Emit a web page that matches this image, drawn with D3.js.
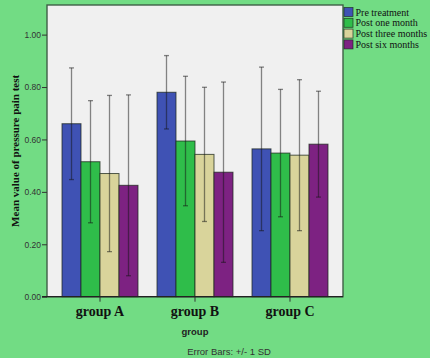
<!DOCTYPE html>
<html>
<head>
<meta charset="utf-8">
<script src="https://cdnjs.cloudflare.com/ajax/libs/d3/7.8.5/d3.min.js"></script>
<style>
  body { margin: 0; background: #fff; }
</style>
</head>
<body>
<div id="chart"></div>
<script>
const WIDTH = 437;
const HEIGHT = 358;

// === DATA ===
const groups = ["group A", "group B", "group C"];
const series = ["Pre treatment", "Post one month", "Post three months", "Post six months"];
const colors = ["#3f52b4", "#2fbd4a", "#d9d49b", "#7d2282"];
// means per series, in group order A, B, C
const means = [
    [0.66, 0.78, 0.564],
    [0.515, 0.594, 0.548],
    [0.47, 0.543, 0.54],
    [0.425, 0.475, 0.582]
];
// standard deviations per series
const sds = [
    [0.213, 0.14, 0.312],
    [0.233, 0.247, 0.243],
    [0.298, 0.256, 0.288],
    [0.345, 0.344, 0.202]
];
const yTicks = [0, 0.2, 0.4, 0.6, 0.8, 1.0];

const PLOT = { left: 47, right: 343, top: 5, bottom: 296.7 };

const svg = d3.select("#chart")
    .append("svg")
    .attr("width", WIDTH)
    .attr("height", HEIGHT);

// green page background
svg.append("rect")
    .attr("x", 0).attr("y", 0)
    .attr("width", 430).attr("height", HEIGHT)
    .attr("fill", "#72dc84");

// plot background
svg.append("rect")
    .attr("x", PLOT.left).attr("y", PLOT.top)
    .attr("width", PLOT.right - PLOT.left)
    .attr("height", PLOT.bottom - PLOT.top)
    .attr("fill", "#f0f0f0")
    .attr("stroke", "#3f5e46")
    .attr("stroke-width", 1.4);

// === SCALES ===
const x = d3.scaleBand()
    .domain(groups)
    .range([PLOT.left, PLOT.right])
    .paddingInner(0.2)
    .paddingOuter(0.158);

const xs = d3.scaleBand()
    .domain(series)
    .range([0, x.bandwidth()]);

const y = d3.scaleLinear()
    .domain([0, 1.113])
    .range([PLOT.bottom, PLOT.top]);

// flatten
const rows = [];
series.forEach((s, si) => {
    groups.forEach((g, gi) => {
        rows.push({ series: s, si, group: g, mean: means[si][gi], sd: sds[si][gi] });
    });
});

// === BARS ===
svg.append("g")
    .selectAll("rect")
    .data(rows)
    .enter()
    .append("rect")
    .attr("x", d => x(d.group) + xs(d.series))
    .attr("y", d => y(d.mean))
    .attr("width", xs.bandwidth())
    .attr("height", d => y(0) - y(d.mean))
    .attr("fill", d => colors[d.si])
    .attr("stroke", "rgba(30,40,30,0.75)")
    .attr("stroke-width", 1);

// === ERROR BARS ===
const eb = svg.append("g")
    .attr("stroke", "rgba(20,20,20,0.5)")
    .attr("stroke-width", 1.3);

rows.forEach(d => {
    const cx = x(d.group) + xs(d.series) + xs.bandwidth() / 2;
    const hi = y(d.mean + d.sd);
    const lo = y(Math.max(0, d.mean - d.sd));
    eb.append("line").attr("x1", cx).attr("x2", cx).attr("y1", hi).attr("y2", lo);
    eb.append("line").attr("x1", cx - 2.5).attr("x2", cx + 2.5).attr("y1", hi).attr("y2", hi);
    eb.append("line").attr("x1", cx - 2.5).attr("x2", cx + 2.5).attr("y1", lo).attr("y2", lo);
});

// === AXES ===
const yAxis = svg.append("g")
    .attr("transform", `translate(${PLOT.left},0)`)
    .call(d3.axisLeft(y).tickValues(yTicks).tickFormat(d3.format(".2f")).tickSize(5).tickPadding(1));
yAxis.select(".domain").remove();
yAxis.selectAll("line").attr("stroke", "#333");
yAxis.selectAll("text")
    .attr("fill", "#333")
    .style("font-family", "Liberation Sans, Arial, sans-serif")
    .style("font-size", "8.5px");

const xAxis = svg.append("g")
    .attr("transform", `translate(0,${PLOT.bottom})`)
    .call(d3.axisBottom(x).tickSize(5).tickPadding(4));
xAxis.select(".domain")
    .attr("d", `M${PLOT.left - 5},0H${PLOT.right}`)
    .attr("stroke", "#222")
    .attr("stroke-width", 1.3);
xAxis.selectAll("line").attr("stroke", "#333");
xAxis.selectAll("text")
    .attr("fill", "#111")
    .style("font-family", "Liberation Serif, Times New Roman, serif")
    .style("font-weight", "bold")
    .style("font-size", "14px");

// axis titles
svg.append("text")
    .attr("transform", `translate(19,${(PLOT.top + PLOT.bottom) / 2}) rotate(-90)`)
    .attr("text-anchor", "middle")
    .attr("fill", "#111")
    .style("font-family", "Liberation Serif, Times New Roman, serif")
    .style("font-weight", "bold")
    .style("font-size", "11px")
    .text("Mean value of pressure pain test");

svg.append("text")
    .attr("x", (PLOT.left + PLOT.right) / 2)
    .attr("y", 335)
    .attr("text-anchor", "middle")
    .attr("fill", "#222")
    .style("font-family", "Liberation Sans, Arial, sans-serif")
    .style("font-weight", "bold")
    .style("font-size", "9.5px")
    .text("group");

svg.append("text")
    .attr("x", 229)
    .attr("y", 355)
    .attr("text-anchor", "middle")
    .attr("fill", "#333")
    .style("font-family", "Liberation Sans, Arial, sans-serif")
    .style("font-size", "9.5px")
    .text("Error Bars: +/- 1 SD");

// === LEGEND ===
const legend = svg.append("g")
    .selectAll("g")
    .data(series)
    .enter()
    .append("g")
    .attr("transform", (d, i) => `translate(344,${7.5 + i * 10.8})`);

legend.append("rect")
    .attr("width", 9)
    .attr("height", 9)
    .attr("fill", (d, i) => colors[i])
    .attr("stroke", "rgba(30,40,30,0.8)")
    .attr("stroke-width", 0.8);

legend.append("text")
    .attr("x", 11.5)
    .attr("y", 4.5)
    .attr("dy", "0.35em")
    .attr("fill", "#111")
    .style("font-family", "Liberation Serif, Times New Roman, serif")
    .style("font-size", "10px")
    .text(d => d);
</script>
</body>
</html>
